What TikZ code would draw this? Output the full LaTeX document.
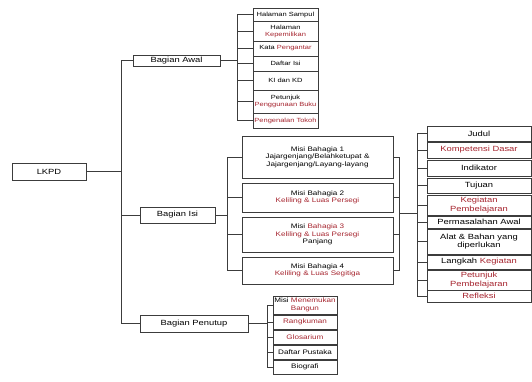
\documentclass[tikz,border=0pt]{standalone}
\usepackage{fontspec}
\setmainfont{Liberation Sans}[FakeStretch=1.25]
\definecolor{inkred}{RGB}{165,35,45}
\definecolor{lineclr}{RGB}{60,60,60}
\tikzset{
  box/.style={draw=lineclr,line width=0.6pt,inner sep=1pt,align=center,
    font=\fontsize{6.5}{7.5}\selectfont},
  bigbox/.style={box,font=\fontsize{7.5}{8.5}\selectfont},
  smallbox/.style={box,font=\fontsize{6}{7}\selectfont},
  link/.style={draw=lineclr,line width=0.6pt}
}
\begin{document}
\begin{tikzpicture}[x=1pt,y=-1pt]
 \useasboundingbox (0,0) rectangle (532,381);
 % main levels
 \node [bigbox,minimum width=74pt,minimum height=17pt] (lkpd) at (49,171.5) {LKPD};
 \node [bigbox,minimum width=87pt,minimum height=11pt] (awal) at (176.5,60.5) {Bagian Awal};
 \node [bigbox,minimum width=75pt,minimum height=16pt] (isi) at (177.5,215) {Bagian Isi};
 \node [bigbox,minimum width=108pt,minimum height=17pt] (penutup) at (194,323.5) {Bagian Penutup};
 % bagian awal
 \node [smallbox,minimum width=65pt,minimum height=13pt] (sampul) at (285.5,14.5) {Halaman Sampul};
 \node [smallbox,minimum width=65pt,minimum height=20pt] (milik) at (285.5,31) {Halaman\\\textcolor{inkred}{Kepemilikan}};
 \node [smallbox,minimum width=65pt,minimum height=15pt] (pengantar) at (285.5,48.5) {Kata \textcolor{inkred}{Pengantar}};
 \node [smallbox,minimum width=65pt,minimum height=15pt] (daftarisi) at (285.5,63.5) {Daftar Isi};
 \node [smallbox,minimum width=65pt,minimum height=19pt] (kikd) at (285.5,80.5) {KI dan KD};
 \node [smallbox,minimum width=65pt,minimum height=23pt] (petunjuk) at (285.5,101.5) {Petunjuk\\\textcolor{inkred}{Penggunaan Buku}};
 \node [smallbox,minimum width=65pt,minimum height=15pt] (tokoh) at (285.5,120.5) {\textcolor{inkred}{Pengenalan Tokoh}};
 % bagian isi
 \node [box,minimum width=151pt,minimum height=42pt] (misi1) at (317.5,157) {Misi Bahagia 1\\Jajargenjang/Belahketupat \&\\Jajargenjang/Layang-layang};
 \node [box,minimum width=151pt,minimum height=29pt] (misi2) at (317.5,197.5) {Misi Bahagia 2\\\textcolor{inkred}{Keliling \& Luas Persegi}};
 \node [box,minimum width=151pt,minimum height=35pt] (misi3) at (317.5,234.5) {Misi \textcolor{inkred}{Bahagia 3}\\\textcolor{inkred}{Keliling \& Luas Persegi}\\Panjang};
 \node [box,minimum width=151pt,minimum height=27pt] (misi4) at (317.5,270.5) {Misi Bahagia 4\\\textcolor{inkred}{Keliling \& Luas Segitiga}};
 % isi tiap misi
 \node [bigbox,minimum width=104pt,minimum height=15pt] (judul) at (479,133.5) {Judul};
 \node [bigbox,minimum width=104pt,minimum height=16pt] (kd) at (479,150) {\textcolor{inkred}{Kompetensi Dasar}};
 \node [bigbox,minimum width=104pt,minimum height=16pt] (indikator) at (479,168) {Indikator};
 \node [bigbox,minimum width=104pt,minimum height=15pt] (tujuan) at (479,185.5) {Tujuan};
 \node [bigbox,minimum width=104pt,minimum height=20pt] (kegiatan) at (479,205) {\textcolor{inkred}{Kegiatan}\\\textcolor{inkred}{Pembelajaran}};
 \node [bigbox,minimum width=104pt,minimum height=12pt] (masalah) at (479,222) {Permasalahan Awal};
 \node [bigbox,minimum width=104pt,minimum height=25pt] (alat) at (479,241.5) {Alat \& Bahan yang\\diperlukan};
 \node [bigbox,minimum width=104pt,minimum height=14pt] (langkah) at (479,262) {Langkah \textcolor{inkred}{Kegiatan}};
 \node [bigbox,minimum width=104pt,minimum height=20pt] (petunjukb) at (479,280) {\textcolor{inkred}{Petunjuk}\\\textcolor{inkred}{Pembelajaran}};
 \node [bigbox,minimum width=104pt,minimum height=12pt] (refleksi) at (479,296) {\textcolor{inkred}{Refleksi}};
 % bagian penutup
 \node [box,minimum width=64pt,minimum height=18pt] (menemukan) at (305,305) {Misi \textcolor{inkred}{Menemukan}\\\textcolor{inkred}{Bangun}};
 \node [box,minimum width=64pt,minimum height=14pt] (rangkuman) at (305,322) {\textcolor{inkred}{Rangkuman}};
 \node [box,minimum width=64pt,minimum height=14pt] (glosarium) at (305,337) {\textcolor{inkred}{Glosarium}};
 \node [box,minimum width=64pt,minimum height=14pt] (pustaka) at (305,352) {Daftar Pustaka};
 \node [box,minimum width=64pt,minimum height=14pt] (biografi) at (305,367) {Biografi};
 % bracket lines
 \coordinate (trunk) at (121,0);
 \coordinate (awbr) at (237,0);
 \coordinate (isbr) at (227,0);
 \coordinate (misbr) at (399,0);
 \coordinate (kbr) at (417,0);
 \coordinate (pnbr) at (267,0);
 \draw [link] (lkpd.east) -- (trunk |- lkpd.east);
 \draw [link] (awal.west) -| (trunk |- penutup.west) -- (penutup.west);
 \draw [link] (isi.west) -- (trunk |- isi.west);
 \draw [link] (awal.east) -- (awbr |- awal.east);
 \draw [link] (sampul.west) -| (awbr |- tokoh.west) -- (tokoh.west);
 \draw [link] (milik.west) -- (awbr |- milik.west);
 \draw [link] (pengantar.west) -- (awbr |- pengantar.west);
 \draw [link] (daftarisi.west) -- (awbr |- daftarisi.west);
 \draw [link] (kikd.west) -- (awbr |- kikd.west);
 \draw [link] (petunjuk.west) -- (awbr |- petunjuk.west);
 \draw [link] (isi.east) -- (isbr |- isi.east);
 \draw [link] (misi1.west) -| (isbr |- misi4.west) -- (misi4.west);
 \draw [link] (misi2.west) -- (isbr |- misi2.west);
 \draw [link] (misi3.west) -- (isbr |- misi3.west);
 \draw [link] (misi1.east) -| (misbr |- misi4.east) -- (misi4.east);
 \draw [link] (misi2.east) -- (misbr |- misi2.east);
 \draw [link] (misi3.east) -- (misbr |- misi3.east);
 \draw [link] (misbr |- 0,213) -- (kbr |- 0,213);
 \draw [link] (judul.west) -| (kbr |- refleksi.west) -- (refleksi.west);
 \draw [link] (kd.west) -- (kbr |- kd.west);
 \draw [link] (indikator.west) -- (kbr |- indikator.west);
 \draw [link] (tujuan.west) -- (kbr |- tujuan.west);
 \draw [link] (kegiatan.west) -- (kbr |- kegiatan.west);
 \draw [link] (masalah.west) -- (kbr |- masalah.west);
 \draw [link] (alat.west) -- (kbr |- alat.west);
 \draw [link] (langkah.west) -- (kbr |- langkah.west);
 \draw [link] (petunjukb.west) -- (kbr |- petunjukb.west);
 \draw [link] (penutup.east) -- (pnbr |- penutup.east);
 \draw [link] (menemukan.west) -| (pnbr |- biografi.west) -- (biografi.west);
 \draw [link] (rangkuman.west) -- (pnbr |- rangkuman.west);
 \draw [link] (glosarium.west) -- (pnbr |- glosarium.west);
 \draw [link] (pustaka.west) -- (pnbr |- pustaka.west);
\end{tikzpicture}
\end{document}
